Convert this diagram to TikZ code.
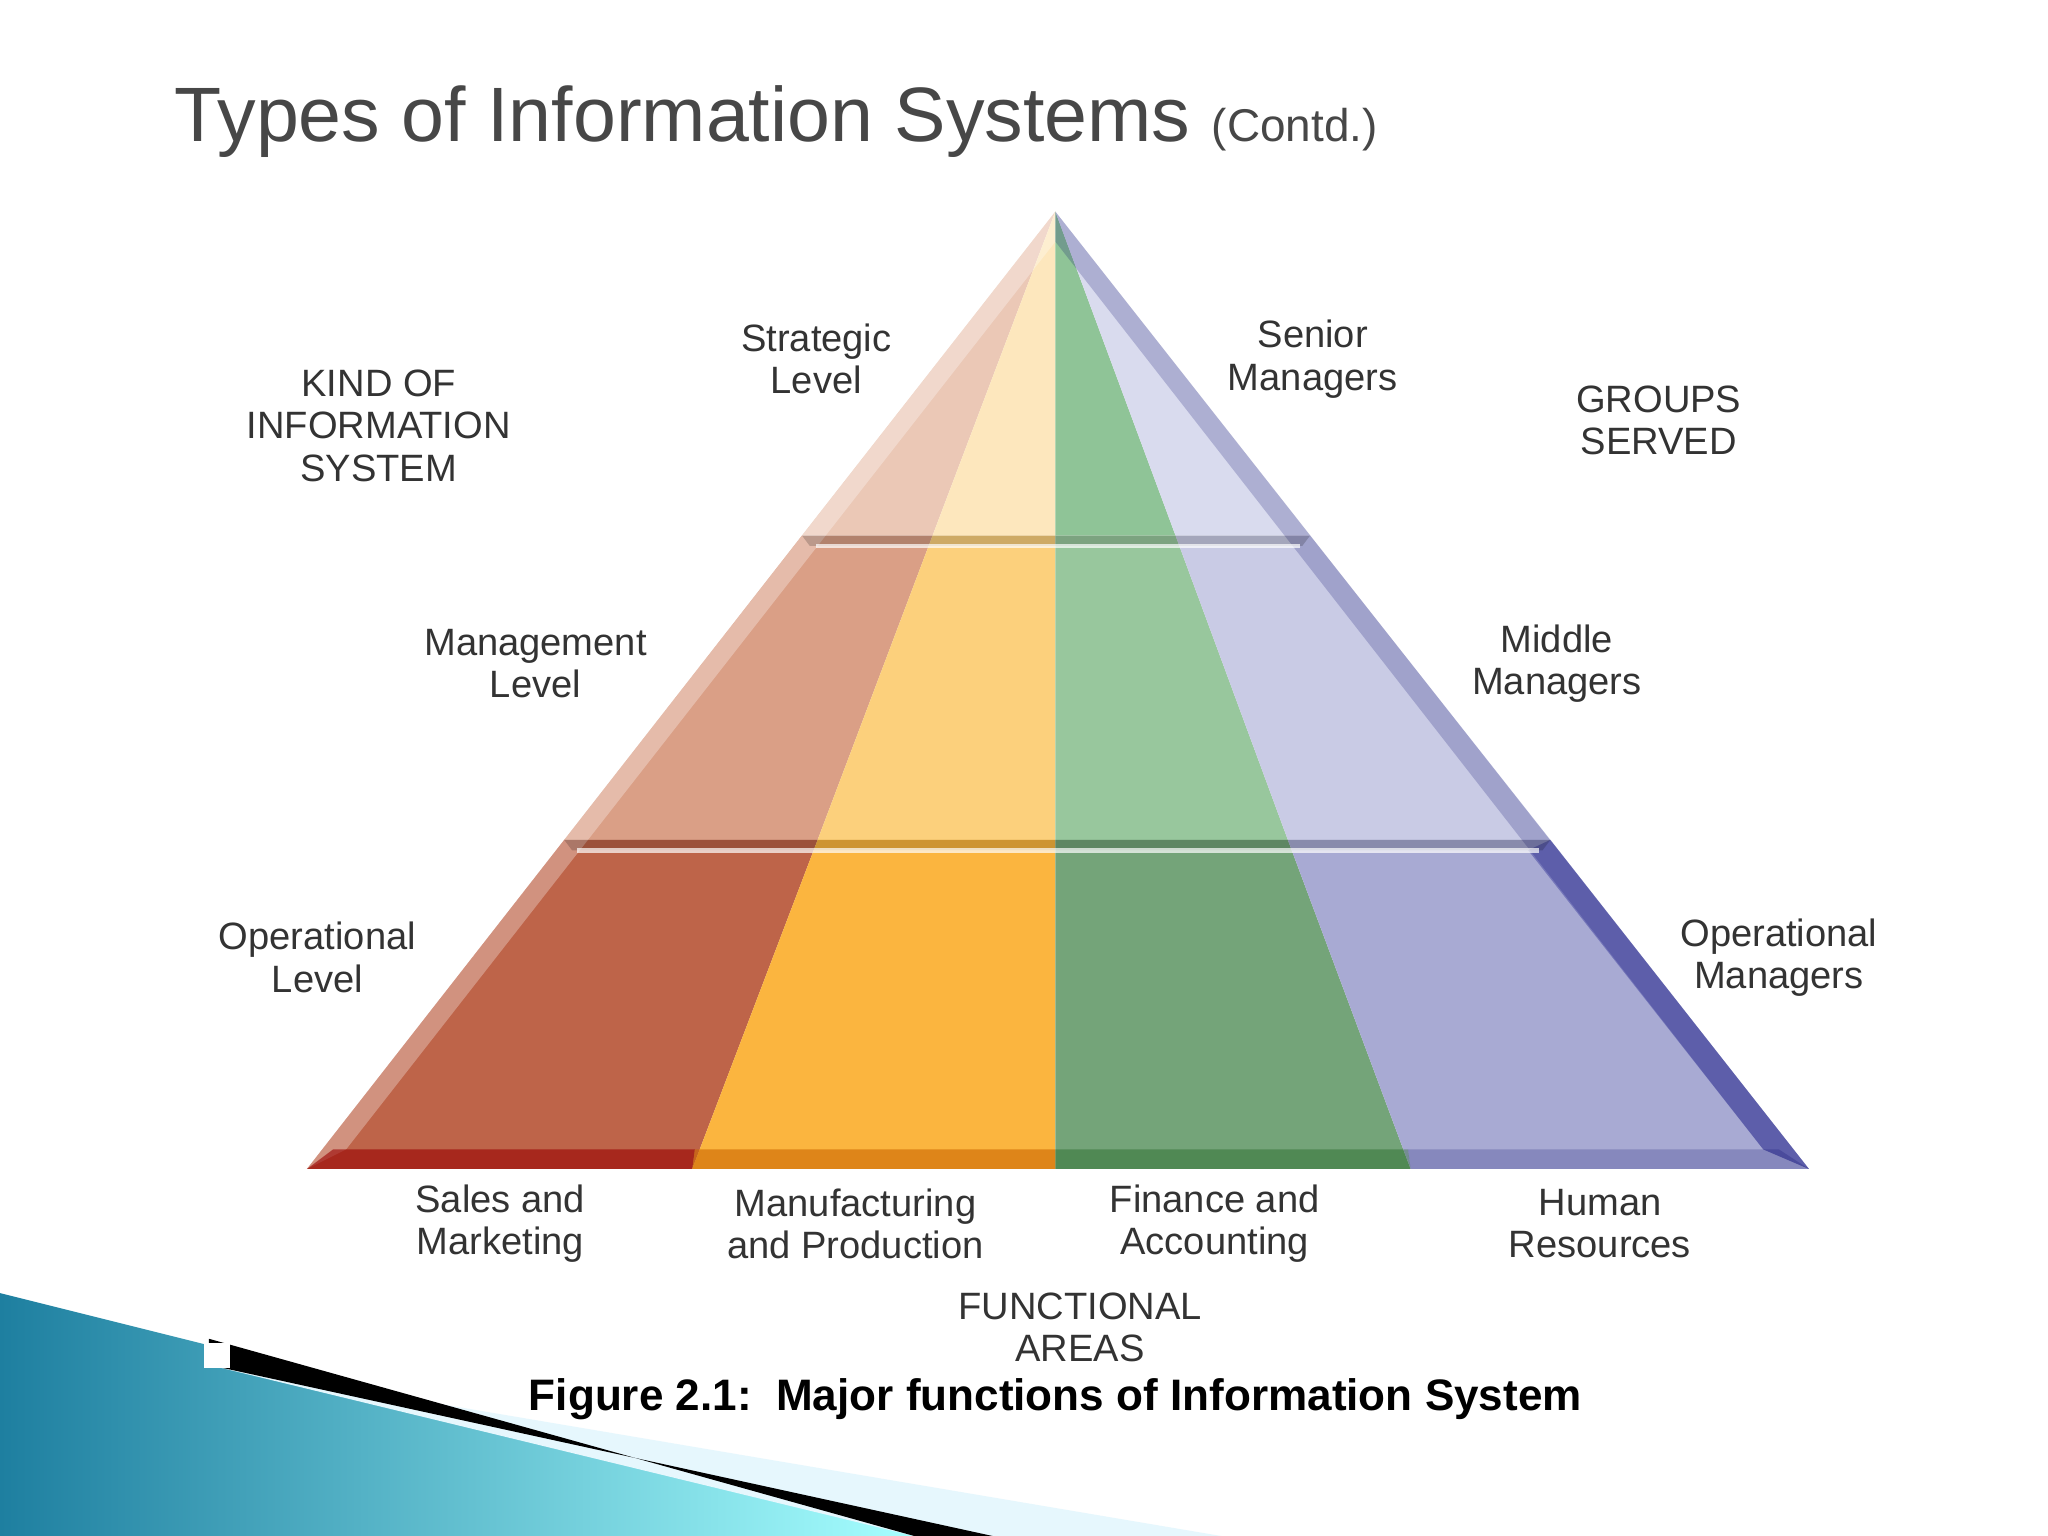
\documentclass[tikz,border=0pt]{standalone}
\usepackage{fontspec}
\setmainfont{Liberation Sans}
\definecolor{sa1}{HTML}{EBC8B6}\definecolor{sa2}{HTML}{DA9F86}\definecolor{sa3}{HTML}{BE6449}
\definecolor{ma1}{HTML}{FDE7BD}\definecolor{ma2}{HTML}{FCD07C}\definecolor{ma3}{HTML}{FBB53F}
\definecolor{fi1}{HTML}{8FC497}\definecolor{fi2}{HTML}{98C79D}\definecolor{fi3}{HTML}{74A479}
\definecolor{hr1}{HTML}{D9DBEE}\definecolor{hr2}{HTML}{C9CBE5}\definecolor{hr3}{HTML}{A8AAD3}
\definecolor{deco}{HTML}{1E7FA0}
\begin{document}
\begin{tikzpicture}[x=0.1mm,y=-0.1mm,
  lbl/.style={font=\fontsize{8.3pt}{9.2pt}\selectfont, text=black!80, align=center},
  band/.style={draw=none}]
\useasboundingbox (0,0) rectangle (1568,1176);
\fill[white] (0,0) rectangle (1568,1176);
% corner decoration
\shade[left color=deco, right color=cyan!35!white] (0,990) -- (160,1030) -- (700,1176) -- (0,1176) -- cycle;
\fill[cyan!10] (160,1045) -- (935,1176) -- (700,1176) -- cycle;
\fill[black] (160,1025) -- (160,1045) -- (760,1176) -- (700,1176) -- cycle;
\fill[white] (156,1028) rectangle (176,1047);
% pyramid coordinates
\coordinate (A) at (808,162);
\coordinate (BL) at (235,895); \coordinate (BR) at (1385,895);
\coordinate (L1) at (614,410); \coordinate (R1) at (1003,410);
\coordinate (L2) at (432,643); \coordinate (R2) at (1187,643);
\coordinate (S1) at (714,410); \coordinate (S2) at (626,643); \coordinate (S3) at (530,895);
\coordinate (M1) at (808,410); \coordinate (M2) at (808,643); \coordinate (M3) at (808,895);
\coordinate (H1) at (900,410); \coordinate (H2) at (986,643); \coordinate (H3) at (1080,895);
\fill[sa1] (A) -- (L1) -- (S1) -- cycle;
\fill[ma1] (A) -- (S1) -- (M1) -- cycle;
\fill[fi1] (A) -- (M1) -- (H1) -- cycle;
\fill[hr1] (A) -- (H1) -- (R1) -- cycle;
\fill[sa2] (L1) -- (L2) -- (S2) -- (S1) -- cycle;
\fill[ma2] (S1) -- (S2) -- (M2) -- (M1) -- cycle;
\fill[fi2] (M1) -- (M2) -- (H2) -- (H1) -- cycle;
\fill[hr2] (H1) -- (H2) -- (R2) -- (R1) -- cycle;
\fill[sa3] (L2) -- (BL) -- (S3) -- (S2) -- cycle;
\fill[ma3] (S2) -- (S3) -- (M3) -- (M2) -- cycle;
\fill[fi3] (M2) -- (M3) -- (H3) -- (H2) -- cycle;
\fill[hr3] (H2) -- (H3) -- (BR) -- (R2) -- cycle;
% bevels
\fill[white,opacity=0.3] (A) -- (BL) -- (265,880) -- (808,185) -- cycle;
\fill[blue!40!black,opacity=0.2] (A) -- (BR) -- (1350,880) -- (808,185) -- cycle;
\fill[blue!50!black,opacity=0.3] (R2) -- (BR) -- (1350,880) -- (1170,651) -- cycle;
\fill[red!60!black,opacity=0.6] (BL) -- (S3) -- (532,880) -- (255,880) -- cycle;
\fill[orange!80!black,opacity=0.6] (S3) -- (M3) -- (808,880) -- (532,880) -- cycle;
\fill[green!30!black,opacity=0.3] (M3) -- (H3) -- (1078,880) -- (808,880) -- cycle;
\fill[blue!40!black,opacity=0.2] (H3) -- (BR) -- (1362,880) -- (1078,880) -- cycle;
\fill[black,opacity=0.18] (L1) -- (R1) -- ++(-6,8) -- (620,418) -- cycle;
\fill[black,opacity=0.18] (L2) -- (R2) -- ++(-6,8) -- (438,651) -- cycle;
\draw[white,opacity=0.7,line width=1pt] (625,418) -- (995,418);
\draw[white,opacity=0.7,line width=1pt] (442,651) -- (1178,651);
% title
\node[anchor=base west, text=black!72, font=\fontsize{16.8pt}{20pt}\selectfont, inner sep=0pt] (title) at (133,108) {Types of Information Systems {\fontsize{10pt}{12pt}\selectfont(Contd.)}};
% labels
\node[lbl] (kind) at (290,326) {KIND OF\\INFORMATION\\SYSTEM};
\node[lbl] (strat) at (625,275) {Strategic\\Level};
\node[lbl] (mgmt) at (410,508) {Management\\Level};
\node[lbl] (oper) at (243,733) {Operational\\Level};
\node[lbl] (senior) at (1005,275) {Senior\\Managers};
\node[lbl] (groups) at (1270,322) {GROUPS\\SERVED};
\node[lbl] (middle) at (1192,508) {Middle\\Managers};
\node[lbl] (opman) at (1362,733) {Operational\\Managers};
\node[lbl] (sales) at (383,937) {Sales and\\Marketing};
\node[lbl] (manu) at (655,937) {Manufacturing\\and Production};
\node[lbl] (fin) at (930,937) {Finance and\\Accounting};
\node[lbl] (hr) at (1225,937) {Human\\Resources};
\node[lbl] (func) at (827,1016) {FUNCTIONAL\\AREAS};
\node[font=\bfseries\fontsize{9.6pt}{11pt}\selectfont] (cap) at (808,1071) {Figure 2.1:\ \ Major functions of Information System};
\end{tikzpicture}
\end{document}
